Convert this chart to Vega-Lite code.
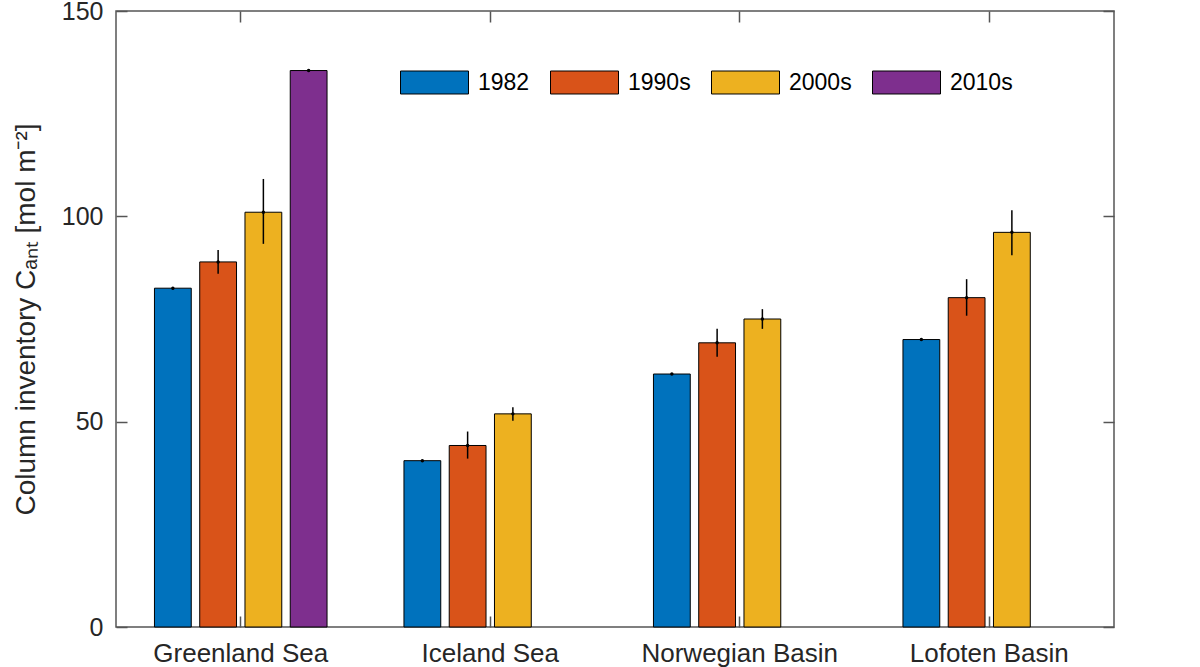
{
  "$schema": "https://vega.github.io/schema/vega-lite/v6.json",
  "width": 998,
  "height": 616,
  "autosize": {"type": "none"},
  "padding": {"left": 116, "top": 11, "right": 86, "bottom": 40},
  "background": "white",
  "config": {
    "font": "Liberation Sans",
    "view": {"stroke": "#555555", "strokeWidth": 1.5},
    "axis": {
      "grid": false,
      "domain": false,
      "tickColor": "#555555",
      "tickWidth": 1.5,
      "labelColor": "#262626",
      "titleColor": "#262626",
      "labelFont": "Liberation Sans",
      "titleFont": "Liberation Sans",
      "labelLimit": 0
    }
  },
  "data": {
    "values": [
      {"region": "Greenland Sea", "period": "1982", "value": 82.5, "lo": 82.2, "hi": 82.8},
      {"region": "Greenland Sea", "period": "1990s", "value": 88.9, "lo": 86.0, "hi": 91.8},
      {"region": "Greenland Sea", "period": "2000s", "value": 101.0, "lo": 93.3, "hi": 109.1},
      {"region": "Greenland Sea", "period": "2010s", "value": 135.5, "lo": 135.2, "hi": 135.8},
      {"region": "Iceland Sea", "period": "1982", "value": 40.5, "lo": 40.3, "hi": 40.7},
      {"region": "Iceland Sea", "period": "1990s", "value": 44.2, "lo": 41.0, "hi": 47.6},
      {"region": "Iceland Sea", "period": "2000s", "value": 51.9, "lo": 50.2, "hi": 53.5},
      {"region": "Norwegian Basin", "period": "1982", "value": 61.6, "lo": 61.4, "hi": 61.8},
      {"region": "Norwegian Basin", "period": "1990s", "value": 69.2, "lo": 65.8, "hi": 72.6},
      {"region": "Norwegian Basin", "period": "2000s", "value": 75.0, "lo": 72.6, "hi": 77.4},
      {"region": "Lofoten Basin", "period": "1982", "value": 70.0, "lo": 69.8, "hi": 70.2},
      {"region": "Lofoten Basin", "period": "1990s", "value": 80.2, "lo": 75.8, "hi": 84.7},
      {"region": "Lofoten Basin", "period": "2000s", "value": 96.1, "lo": 90.5, "hi": 101.5}
    ]
  },
  "layer": [
    {
      "mark": {"type": "bar", "stroke": "#000000", "strokeWidth": 1},
      "encoding": {
        "x": {
          "field": "region",
          "type": "nominal",
          "sort": ["Greenland Sea", "Iceland Sea", "Norwegian Basin", "Lofoten Basin"],
          "scale": {"paddingInner": 0, "paddingOuter": 0},
          "axis": {
            "orient": "bottom",
            "title": null,
            "labelAngle": 0,
            "labelFontSize": 26,
            "tickSize": -11,
            "labelPadding": 24
          }
        },
        "xOffset": {
          "field": "period",
          "type": "nominal",
          "scale": {"domain": ["1982", "1990s", "2000s", "2010s"], "paddingInner": 0.187, "paddingOuter": 0.85}
        },
        "y": {
          "field": "value",
          "type": "quantitative",
          "scale": {"domain": [0, 150], "nice": false},
          "axis": {
            "orient": "left",
            "values": [0, 50, 100, 150],
            "title": "Column inventory Cₐₙₜ [mol m⁻²]",
            "titleFontSize": 28,
            "titleFontWeight": "normal",
            "titlePadding": 21,
            "labelFontSize": 25,
            "tickSize": -11,
            "labelPadding": 24
          }
        },
        "color": {
          "field": "period",
          "type": "nominal",
          "scale": {
            "domain": ["1982", "1990s", "2000s", "2010s"],
            "range": ["#0072BD", "#D95319", "#EDB120", "#7E2F8E"]
          },
          "legend": {
            "title": null,
            "orient": "none",
            "direction": "horizontal",
            "legendX": 284,
            "legendY": 37,
            "symbolType": "M-1,-0.338L1,-0.338L1,0.338L-1,0.338Z",
            "symbolSize": 4624,
            "symbolStrokeColor": "#000000",
            "symbolStrokeWidth": 1,
            "symbolOpacity": 1,
            "labelFontSize": 23,
            "labelColor": "#000000",
            "labelOffset": 9,
            "columnPadding": 18
          }
        }
      }
    },
    {
      "mark": {"type": "rule", "color": "#000000", "strokeWidth": 1.5},
      "encoding": {
        "x": {
          "field": "region",
          "type": "nominal",
          "sort": ["Greenland Sea", "Iceland Sea", "Norwegian Basin", "Lofoten Basin"],
          "axis": {"orient": "top", "title": null, "labels": false, "tickSize": -11}
        },
        "xOffset": {"field": "period", "type": "nominal"},
        "y": {
          "field": "lo",
          "type": "quantitative",
          "axis": {"orient": "right", "title": null, "labels": false, "values": [0, 50, 100, 150], "tickSize": -11}
        },
        "y2": {"field": "hi"}
      }
    },
    {
      "mark": {"type": "point", "filled": true, "color": "#000000", "size": 12, "opacity": 1},
      "encoding": {
        "x": {"field": "region", "type": "nominal", "sort": ["Greenland Sea", "Iceland Sea", "Norwegian Basin", "Lofoten Basin"], "axis": null},
        "xOffset": {"field": "period", "type": "nominal"},
        "y": {"field": "value", "type": "quantitative", "axis": null}
      }
    }
  ],
  "resolve": {"axis": {"x": "independent", "y": "independent"}}
}
